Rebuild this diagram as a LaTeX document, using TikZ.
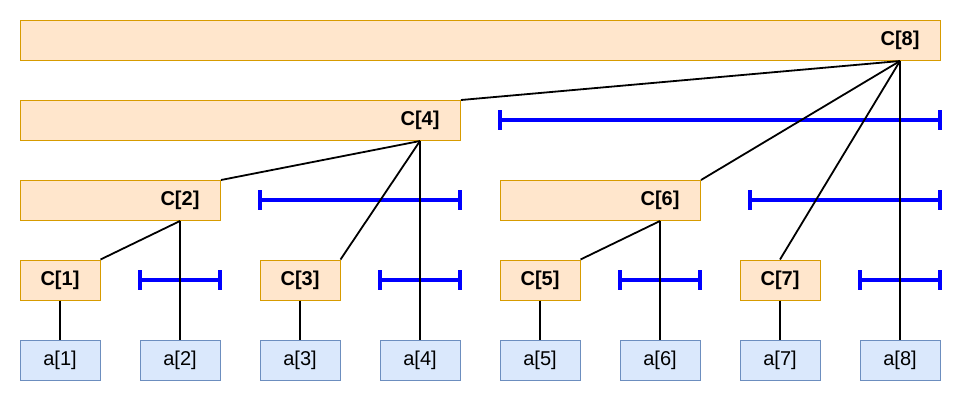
\documentclass[tikz,border=0pt]{standalone}
\usepackage{fontspec}
\setmainfont{Liberation Sans}
\usetikzlibrary{positioning}
\definecolor{cellfill}{RGB}{255,230,204}
\definecolor{celldraw}{RGB}{215,155,0}
\definecolor{leaffill}{RGB}{218,232,252}
\definecolor{leafdraw}{RGB}{108,142,191}
\newcommand{\rangebar}[3]{% x1 x2 y: blue interval with end ticks
  \draw[blue,line width=4] (#1,#3) -- (#2,#3);
  \draw[blue,line width=4] (#1,#3-10) -- (#1,#3+10);
  \draw[blue,line width=4] (#2,#3-10) -- (#2,#3+10);
}

\begin{document}
\begin{tikzpicture}[x=1pt,y=-1pt,
    leaf/.style={draw=leafdraw,fill=leaffill,line width=1,minimum width=80pt,minimum height=40pt,inner sep=0pt,font=\fontsize{20}{24}\selectfont},
    cell/.style={draw=celldraw,fill=cellfill,line width=1,minimum width=80pt,minimum height=40pt,inner sep=0pt,font=\fontsize{20}{24}\selectfont\bfseries},
    celltext/.style={inner sep=0pt,font=\fontsize{20}{24}\selectfont\bfseries},
    link/.style={line width=1.8}]
  \useasboundingbox (0,0) rectangle (963,402);
  % leaves
  \foreach \i in {1,...,8}
    \node[leaf] (a\i) at ({60+120*(\i-1)},360) {a[\i]};
  % odd cells
  \foreach \i in {1,3,5,7}
    \node[cell] (C\i) at ({60+120*(\i-1)},280) {C[\i]};
  % wide cells, label over their last leaf
  \node[cell,anchor=north west,minimum width=200pt] (C2) at (20,180) {};
  \node[celltext] (C2t) at (C2 -| a2) {C[2]};
  \node[cell,anchor=north west,minimum width=200pt] (C6) at (500,180) {};
  \node[celltext] (C6t) at (C6 -| a6) {C[6]};
  \node[cell,anchor=north west,minimum width=440pt] (C4) at (20,100) {};
  \node[celltext] (C4t) at (C4 -| a4) {C[4]};
  \node[cell,anchor=north west,minimum width=920pt] (C8) at (20,20) {};
  \node[celltext] (C8t) at (C8 -| a8) {C[8]};
  % ranges
  \rangebar{500}{940}{120}
  \rangebar{260}{460}{200}
  \rangebar{750}{940}{200}
  \rangebar{140}{220}{280}
  \rangebar{380}{460}{280}
  \rangebar{620}{700}{280}
  \rangebar{860}{940}{280}
  % links
  \draw[link] (C8.south -| a8) -- (C4.north east);
  \draw[link] (C8.south -| a8) -- (C6.north east);
  \draw[link] (C8.south -| a8) -- (C7.north);
  \draw[link] (C8.south -| a8) -- (a8.north);
  \draw[link] (C4.south -| a4) -- (C2.north east);
  \draw[link] (C4.south -| a4) -- (C3.north east);
  \draw[link] (C4.south -| a4) -- (a4.north);
  \draw[link] (C2.south -| a2) -- (C1.north east);
  \draw[link] (C2.south -| a2) -- (a2.north);
  \draw[link] (C6.south -| a6) -- (C5.north east);
  \draw[link] (C6.south -| a6) -- (a6.north);
  \foreach \i in {1,3,5,7}
    \draw[link] (C\i.south) -- (a\i.north);
\end{tikzpicture}
\end{document}
